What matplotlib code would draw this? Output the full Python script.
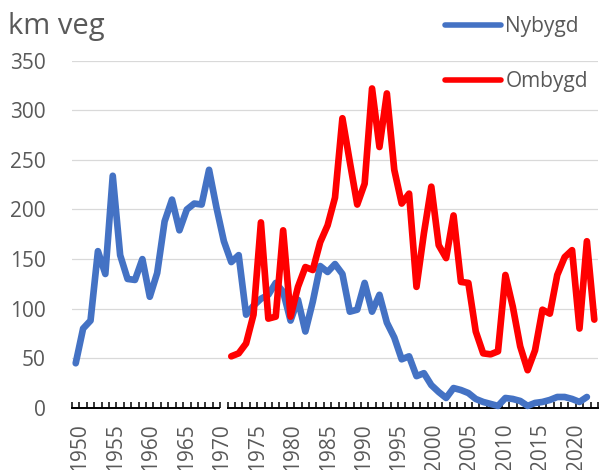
import numpy as np
import matplotlib
matplotlib.use("Agg")
import matplotlib.pyplot as plt
from matplotlib.ticker import FixedLocator

plt.rcParams['font.family'] = ['Open Sans', 'DejaVu Sans']

# ---- data ----
nybygd_years = list(range(1950, 2020))
nybygd = [45, 80, 88, 158, 135, 234, 154, 130, 129, 150,
          112, 136, 188, 210, 179, 200, 206, 205, 240, 202,
          168, 147, 154, 94, 103, 110, 114, 126, 117, 88,
          109, 77, 107, 143, 137, 145, 135, 97, 99, 126,
          97, 114, 86, 71, 49, 52, 32, 35, 23, 16,
          10, 20, 18, 15, 9, 6, 4, 2, 10, 9,
          7, 2, 5, 6, 8, 11, 11, 9, 6, 11]

ombygd_years = list(range(1971, 2021))
ombygd = [52, 55, 65, 94, 187, 90, 92, 179, 92,
          122, 142, 139, 167, 184, 212, 292, 248, 205, 226,
          322, 263, 317, 240, 206, 216, 122, 176, 223, 164,
          151, 194, 127, 126, 77, 55, 54, 57, 134, 102,
          62, 38, 58, 99, 95, 134, 152, 159, 80, 168,
          89]

tick_labels = [str(y) for y in range(1950, 2021, 5)]
y_ticks = [0, 50, 100, 150, 200, 250, 300, 350]
series_names = ['Nybygd', 'Ombygd']
title = 'km veg'

# ---- style ----
BLUE = '#4472C4'
RED = '#FF0000'
GREY = '#595959'
GRID = '#D9D9D9'
W, H = 601, 470

fig = plt.figure(figsize=(W / 100, H / 100), dpi=100)
ax = fig.add_axes([72 / W, 1 - 407.9 / H, 526 / W, (407.9 - 60.7) / H])

l1, = ax.plot(nybygd_years, nybygd, color=BLUE, lw=4.8, solid_joinstyle='round',
              solid_capstyle='round', clip_on=False, zorder=3, label=series_names[0])
l2, = ax.plot(ombygd_years, ombygd, color=RED, lw=4.8, solid_joinstyle='round',
              solid_capstyle='round', clip_on=False, zorder=4, label=series_names[1])

ax.set_xlim(1949.5, 2020.5)
ax.set_ylim(0, 350)

for s in ax.spines.values():
    s.set_visible(False)

# gridlines
ax.set_yticks(y_ticks)
ax.yaxis.grid(True, color=GRID, lw=0.9)
ax.set_axisbelow(True)
ax.tick_params(axis='y', length=0, pad=19, labelsize=15, labelcolor=GREY)
for gl in ax.yaxis.get_gridlines()[:1]:
    gl.set_visible(False)

# broken bottom axis line
ax.plot([1949.5, 1969.4], [0, 0], color='black', lw=1.4, clip_on=False, zorder=2.5)
ax.plot([1970.6, 2020.5], [0, 0], color='black', lw=1.4, clip_on=False, zorder=2.5)

# minor ticks between categories, pointing up
ax.xaxis.set_minor_locator(FixedLocator([y + 0.5 for y in range(1949, 2021)]))
ax.tick_params(axis='x', which='minor', direction='in', length=4, width=1.1,
               color='black')

# labels (placed as in the reference, drifting slightly from the categories)
n = len(tick_labels)
label_pos = [1950.55 + i * 5 * 0.9576 for i in range(n)]
ax.xaxis.set_major_locator(FixedLocator(label_pos))
ax.set_xticklabels(tick_labels, rotation=90)
ax.tick_params(axis='x', which='major', length=0, pad=11, labelsize=15,
               labelcolor=GREY)

fig.text(8 / W, 1 - 34 / H, title, fontsize=21, color=GREY, va='baseline')

leg = fig.legend(handles=[l1, l2], loc='upper left',
                 bbox_to_anchor=(445 / W, 1 - 16 / H), frameon=False,
                 fontsize=15, handlelength=2.7, handletextpad=0.2,
                 labelspacing=1.65, borderpad=0, borderaxespad=0)
for t in leg.get_texts():
    t.set_color(GREY)
for lh in leg.get_lines():
    lh.set_linewidth(4)

fig.savefig('out.png', dpi=100)
